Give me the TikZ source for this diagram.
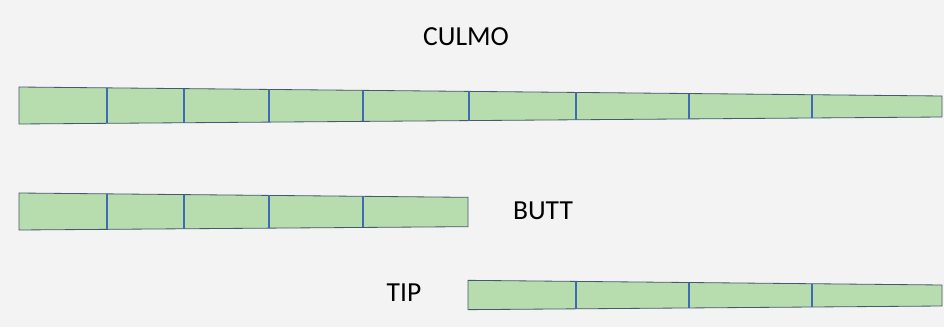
\documentclass[tikz,border=0pt]{standalone}
\usepackage{fontspec}
\setmainfont{Carlito}
\usepackage{xcolor}
\usepackage{tikz}
\usetikzlibrary{calc}

\definecolor{bgGray}{RGB}{243,243,243}
\definecolor{culmGreen}{RGB}{183,221,174}
\definecolor{culmEdge}{RGB}{70,88,110}
\definecolor{nodeBlue}{RGB}{62,106,182}

\begin{document}
\begin{tikzpicture}[
    segment/.style={fill=culmGreen, draw=culmEdge, line width=0.7pt, line join=miter},
    knot/.style={draw=nodeBlue, line width=2.1pt},
    label/.style={font=\fontsize{23.5}{28}\selectfont, text=black, inner sep=0pt}
]

% Background (fixes the margins)
\fill[bgGray] (0,0) rectangle (28.32,9.81);

% Labels
\node[label] (culm_label) at (13.98,8.70) {CULMO};
\node[label] (butt_label) at (16.29,3.48) {BUTT};
\node[label] (tip_label)  at (12.12,1.02) {TIP};

% Whole culm
\coordinate (culm_tl) at (0.57,7.20);
\coordinate (culm_tr) at (28.26,6.93);
\coordinate (culm_br) at (28.26,6.30);
\coordinate (culm_bl) at (0.57,6.09);
\draw[segment] (culm_tl) -- (culm_tr) -- (culm_br) -- (culm_bl) -- cycle;
\foreach \t in {0.0953,0.1788,0.2709,0.3727,0.4875,0.6035,0.7259,0.8592}
    \draw[knot] ($(culm_tl)!\t!(culm_tr)$) -- ($(culm_bl)!\t!(culm_br)$);

% Butt part
\coordinate (butt_tl) at (0.57,4.02);
\coordinate (butt_tr) at (14.04,3.89);
\coordinate (butt_br) at (14.04,3.01);
\coordinate (butt_bl) at (0.57,2.91);
\draw[segment] (butt_tl) -- (butt_tr) -- (butt_br) -- (butt_bl) -- cycle;
\foreach \t in {0.196,0.3675,0.5568,0.7661}
    \draw[knot] ($(butt_tl)!\t!(butt_tr)$) -- ($(butt_bl)!\t!(butt_br)$);

% Tip part
\coordinate (tip_tl) at (14.04,1.40);
\coordinate (tip_tr) at (28.26,1.26);
\coordinate (tip_br) at (28.26,0.63);
\coordinate (tip_bl) at (14.04,0.52);
\draw[segment] (tip_tl) -- (tip_tr) -- (tip_br) -- (tip_bl) -- cycle;
\foreach \t in {0.2278,0.4662,0.7257}
    \draw[knot] ($(tip_tl)!\t!(tip_tr)$) -- ($(tip_bl)!\t!(tip_br)$);

\end{tikzpicture}
\end{document}
